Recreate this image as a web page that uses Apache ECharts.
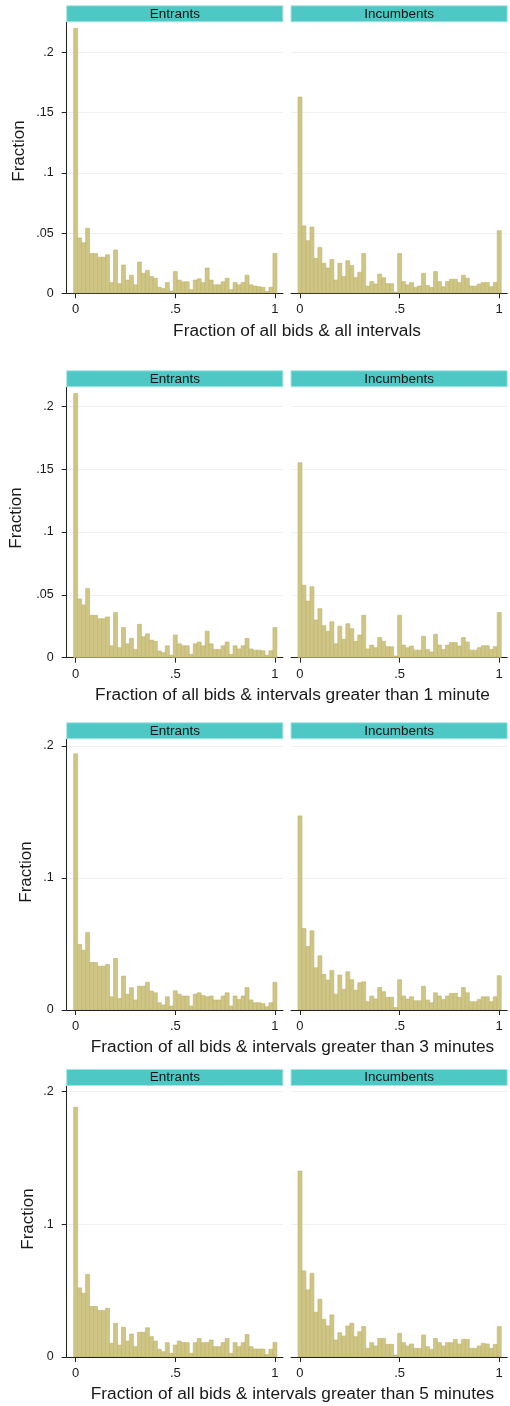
<!DOCTYPE html>
<html><head><meta charset="utf-8">
<script src="https://cdn.jsdelivr.net/npm/echarts@6/dist/echarts.min.js"></script>
<style>html,body{margin:0;padding:0;background:#fff}#c{width:510px;height:1406px}</style>
</head><body><div id="c"></div>
<script>
// ---- data ----
const binCenters = [0,0.02,0.04,0.06,0.08,0.1,0.12,0.14,0.16,0.18,0.2,0.22,0.24,0.26,0.28,0.3,0.32,0.34,0.36,0.38,0.4,0.42,0.44,0.46,0.48,0.5,0.52,0.54,0.56,0.58,0.6,0.62,0.64,0.66,0.68,0.7,0.72,0.74,0.76,0.78,0.8,0.82,0.84,0.86,0.88,0.9,0.92,0.94,0.96,0.98,1];
const binWidth = 0.02;
const panelLabels = ['Entrants', 'Incumbents'];
const xTitles = [
  'Fraction of all bids & all intervals',
  'Fraction of all bids & intervals greater than 1 minute',
  'Fraction of all bids & intervals greater than 3 minutes',
  'Fraction of all bids & intervals greater than 5 minutes'
];
const yTitle = 'Fraction';
const xTickValues = [0, 0.5, 1];
const yTickValuesFine = [0, 0.05, 0.1, 0.15, 0.2];
const yTickValuesCoarse = [0, 0.1, 0.2];

const entrantsAll = [0.220,0.046,0.042,0.054,0.033,0.033,0.030,0.030,0.032,0.009,0.036,0.008,0.0235,0.011,0.015,0.007,0.026,0.0166,0.019,0.014,0.0125,0.005,0.004,0.009,0.002,0.018,0.011,0.0095,0.0095,0.003,0.011,0.012,0.009,0.021,0.011,0.007,0.007,0.0095,0.0125,0.003,0.009,0.007,0.009,0.015,0.007,0.006,0.0055,0.005,0.0015,0.005,0.033];
const incumbentsAll = [0.163,0.056,0.0437,0.055,0.029,0.038,0.025,0.021,0.028,0.011,0.025,0.014,0.027,0.023,0.013,0.0175,0.033,0.006,0.0097,0.0077,0.016,0.013,0.008,0.008,0.001,0.033,0.0097,0.007,0.009,0.005,0.006,0.0166,0.0064,0.005,0.018,0.0097,0.0055,0.0097,0.0116,0.0116,0.009,0.015,0.0125,0.006,0.006,0.0077,0.009,0.009,0.0055,0.009,0.052];
const entrants1min = [0.21,0.0467,0.042,0.055,0.0337,0.0337,0.031,0.031,0.0324,0.0095,0.036,0.008,0.024,0.011,0.0154,0.0066,0.0265,0.0167,0.019,0.014,0.013,0.0053,0.004,0.0095,0.002,0.018,0.011,0.0095,0.0095,0.0027,0.011,0.0125,0.0095,0.021,0.011,0.0066,0.0066,0.0095,0.0125,0.0027,0.0095,0.007,0.0095,0.0154,0.007,0.006,0.006,0.0055,0.002,0.0055,0.024];
const incumbents1min = [0.155,0.0576,0.045,0.0565,0.030,0.039,0.0255,0.021,0.0286,0.011,0.025,0.0146,0.027,0.023,0.013,0.018,0.0337,0.007,0.010,0.008,0.016,0.013,0.0088,0.0088,0.0013,0.0337,0.010,0.008,0.0093,0.006,0.006,0.017,0.0066,0.0045,0.0186,0.010,0.0066,0.010,0.012,0.012,0.0093,0.016,0.0125,0.006,0.006,0.008,0.0095,0.0095,0.0066,0.0088,0.036];
const entrants3min = [0.194,0.0496,0.0453,0.0587,0.036,0.036,0.0332,0.0332,0.0345,0.010,0.039,0.0088,0.0257,0.012,0.0169,0.0076,0.018,0.018,0.021,0.0144,0.013,0.0055,0.0038,0.010,0.003,0.0146,0.012,0.0106,0.0106,0.003,0.012,0.013,0.011,0.010,0.0106,0.0076,0.0076,0.0106,0.013,0.003,0.0106,0.008,0.0106,0.017,0.0076,0.0055,0.0055,0.005,0.0025,0.0055,0.021];
const incumbents3min = [0.147,0.0617,0.048,0.060,0.032,0.041,0.027,0.0227,0.030,0.012,0.0265,0.0156,0.029,0.023,0.015,0.0207,0.0214,0.0063,0.0106,0.0083,0.017,0.0139,0.0096,0.0096,0.0018,0.023,0.0106,0.0083,0.010,0.007,0.007,0.018,0.0076,0.0055,0.013,0.0106,0.008,0.0106,0.0126,0.0126,0.0096,0.017,0.013,0.0063,0.0063,0.008,0.010,0.010,0.0063,0.010,0.026];
const entrants5min = [0.188,0.052,0.048,0.0623,0.038,0.038,0.035,0.035,0.0367,0.0103,0.0254,0.009,0.0224,0.012,0.0173,0.0078,0.0186,0.0186,0.022,0.0153,0.012,0.0058,0.004,0.0108,0.0028,0.009,0.012,0.0108,0.0108,0.0028,0.0108,0.014,0.0108,0.0108,0.0128,0.0078,0.0078,0.0108,0.014,0.0028,0.0108,0.0078,0.0108,0.017,0.0078,0.006,0.006,0.006,0.0018,0.0058,0.011];
const incumbents5min = [0.140,0.0648,0.0505,0.063,0.0337,0.0435,0.0284,0.0234,0.0317,0.0128,0.0183,0.0158,0.0234,0.0254,0.0153,0.019,0.0229,0.0065,0.0108,0.0083,0.014,0.014,0.0095,0.0095,0.0015,0.0178,0.0108,0.0083,0.0098,0.0065,0.0065,0.0166,0.0078,0.0058,0.014,0.0108,0.0083,0.0108,0.0108,0.0133,0.0098,0.0133,0.0133,0.0065,0.0065,0.0083,0.0103,0.0098,0.0065,0.0095,0.0229];

// ---- layout ----
const rows = [
  {top: 22.3,  base: 293.3,  ymax: 0.225, ticks: yTickValuesFine,   data: [entrantsAll, incumbentsAll],   yTitleX: 19,   yTitleY: 151,  xTitleX: 297},
  {top: 387.3, base: 657.7,  ymax: 0.215, ticks: yTickValuesFine,   data: [entrants1min, incumbents1min], yTitleX: 16,   yTitleY: 518,  xTitleX: 292.5},
  {top: 739.3, base: 1010,   ymax: 0.205, ticks: yTickValuesCoarse, data: [entrants3min, incumbents3min], yTitleX: 26,   yTitleY: 872,  xTitleX: 292.5},
  {top: 1086,  base: 1357,   ymax: 0.204, ticks: yTickValuesCoarse, data: [entrants5min, incumbents5min], yTitleX: 28.5, yTitleY: 1219, xTitleX: 292.5}
];
const colLeft = [66.7, 291];
const gridWidth = 216.2;
const XMIN = -0.045, XMAX = 1.04;
const BAR_FILL = '#cfc585', BAR_EDGE = '#bdb36f';
const STRIP_FILL = '#4ec8c4', STRIP_EDGE = '#a9e4e2';
const FONT = '"Liberation Sans", Arial, Helvetica, sans-serif';

const fmt = v => v === 0 ? '0' : String(+v.toFixed(3)).replace(/^0/, '');

const grid = [], xAxis = [], yAxis = [], series = [], graphic = [];
rows.forEach((r, ri) => {
  for (let c = 0; c < 2; c++) {
    const gi = grid.length;
    grid.push({left: colLeft[c], top: r.top, width: gridWidth, height: r.base - r.top, containLabel: false});
    xAxis.push({
      type: 'value', gridIndex: gi, min: XMIN, max: XMAX, position: 'bottom',
      axisLine: {show: true, onZero: false, lineStyle: {color: '#222', width: 1}},
      axisTick: {show: true, length: 5, customValues: xTickValues, lineStyle: {color: '#222'}},
      axisLabel: {show: true, customValues: xTickValues, formatter: fmt, margin: 10,
                  fontSize: 13, color: '#1a1a1a', fontFamily: FONT},
      splitLine: {show: false}
    });
    yAxis.push({
      type: 'value', gridIndex: gi, min: 0, max: r.ymax, position: 'left',
      axisLine: {show: c === 0, onZero: false, lineStyle: {color: '#222', width: 1}},
      axisTick: {show: c === 0, length: 5, customValues: r.ticks, lineStyle: {color: '#222'}},
      axisLabel: {show: c === 0, customValues: r.ticks, formatter: fmt, margin: 13,
                  fontSize: 12.5, color: '#1a1a1a', fontFamily: FONT},
      splitLine: {show: true, lineStyle: {color: '#f0f0f0', width: 1}}
    });
    series.push({
      type: 'custom', xAxisIndex: gi, yAxisIndex: gi, clip: true,
      data: binCenters.map((x, k) => [x, r.data[c][k]]),
      renderItem: (params, api) => {
        const x = api.value(0), y = api.value(1);
        const p0 = api.coord([x - binWidth / 2, y]);
        const p1 = api.coord([x + binWidth / 2, 0]);
        return {type: 'rect',
          shape: {x: p0[0], y: p0[1], width: p1[0] - p0[0], height: p1[1] - p0[1]},
          style: {fill: BAR_FILL, stroke: BAR_EDGE, lineWidth: 0.6}};
      }
    });
    graphic.push({type: 'rect', shape: {x: colLeft[c], y: r.top - 16.5, width: gridWidth, height: 16},
      style: {fill: STRIP_FILL, stroke: STRIP_EDGE, lineWidth: 1}, z: 10});
    graphic.push({type: 'text', x: colLeft[c] + gridWidth / 2, y: r.top - 8.5, z: 11,
      style: {text: panelLabels[c], fill: '#111', font: '13.5px ' + FONT, textAlign: 'center', textVerticalAlign: 'middle'}});
  }
  graphic.push({type: 'text', x: r.yTitleX, y: r.yTitleY, rotation: Math.PI / 2, z: 11,
    style: {text: yTitle, fill: '#1a1a1a', font: '17px ' + FONT, textAlign: 'center', textVerticalAlign: 'middle'}});
  graphic.push({type: 'text', x: r.xTitleX, y: r.base + 37.5, z: 11,
    style: {text: xTitles[ri], fill: '#1a1a1a', font: '17.3px ' + FONT, textAlign: 'center', textVerticalAlign: 'middle'}});
});

const chart = echarts.init(document.getElementById('c'), null, {renderer: 'canvas'});
chart.setOption({backgroundColor: '#fff', animation: false, grid, xAxis, yAxis, series, graphic});
</script></body></html>
